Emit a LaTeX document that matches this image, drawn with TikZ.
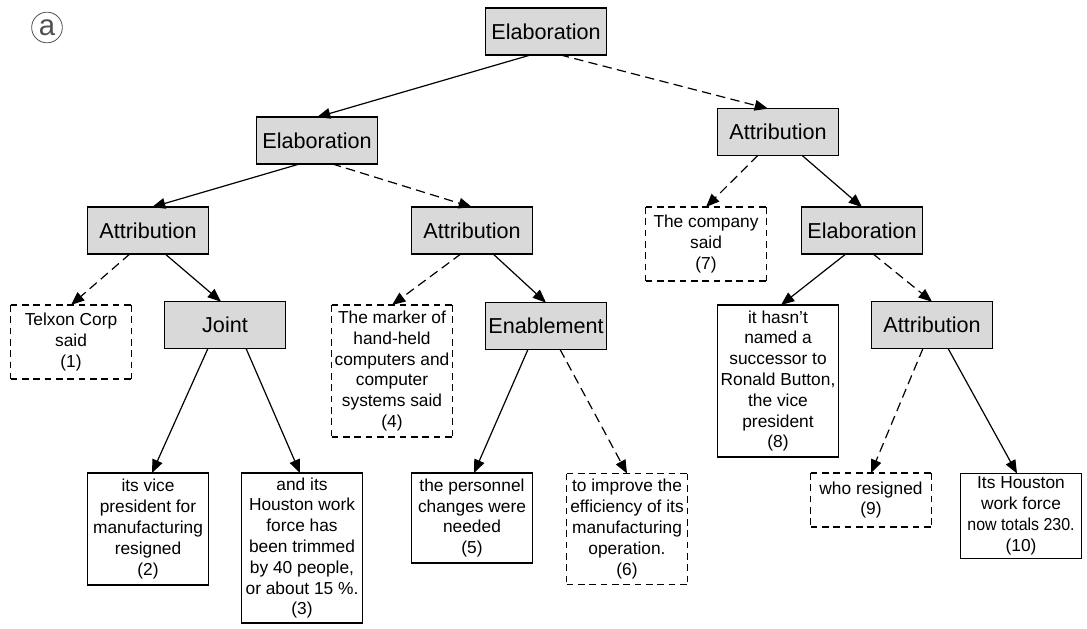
\documentclass[tikz,border=0pt]{standalone}
\usepackage{fontspec}
\usepackage{graphicx}
\setmainfont{Liberation Sans}
\usetikzlibrary{arrows.meta,calc}
\definecolor{relfill}{RGB}{217,217,217}
\definecolor{circgray}{RGB}{80,80,80}
\begin{document}
\begin{tikzpicture}[x=0.75pt,y=-0.75pt,
  rel/.style={draw,line width=1.1pt,fill=relfill,minimum width=90.5pt,minimum height=35pt,inner sep=0pt,outer sep=0pt,font=\fontsize{16.2}{19}\selectfont},
  txt/.style={draw,line width=1pt,minimum width=90.5pt,inner sep=0pt,outer sep=0pt,align=center,font=\fontsize{13}{15.6}\selectfont},
  dline/.style={dash pattern=on 5pt off 3.5pt,line cap=butt},
  dtxt/.style={txt,draw=none,append after command={
    (\tikzlastnode.north west) edge[dline,line width=1.2pt] (\tikzlastnode.north east)
    (\tikzlastnode.south west) edge[dline,line width=1.2pt] (\tikzlastnode.south east)
    (\tikzlastnode.north west) edge[dline,line width=0.6pt] (\tikzlastnode.south west)
    (\tikzlastnode.north east) edge[dline,line width=0.6pt] (\tikzlastnode.south east)}},
  arr/.style={-{Triangle[length=10pt,width=8pt]},line width=0.9pt},
  darr/.style={arr,dash pattern=on 7pt off 4pt}]
\useasboundingbox (0,0) rectangle (1087,628);
% label
\node[circle,draw=circgray,line width=0.6pt,minimum size=23pt,inner sep=0pt,text=circgray,font=\fontsize{22}{22}\selectfont] (lab) at (47,27.5) {a};
% relation nodes
\node[rel] (root)   at (546,31.5) {Elaboration};
\node[rel] (elabL)  at (317,140.5) {Elaboration};
\node[rel] (attrR)  at (778,132) {Attribution};
\node[rel] (attrLL) at (148,230.5) {Attribution};
\node[rel] (attrM)  at (472,230.5) {Attribution};
\node[rel] (elabR)  at (862,230.5) {Elaboration};
\node[rel] (joint)  at (225,325) {Joint};
\node[rel] (enab)   at (546,326) {Enablement};
\node[rel] (attrI)  at (932,325) {Attribution};
% text nodes
\node[dtxt,minimum height=55.5pt] (company) at (706,244) {The company\\said\\(7)};
\node[dtxt,minimum height=55.5pt] (telxon) at (71,342) {Telxon Corp\\said\\(1)};
\node[dtxt,minimum height=99pt] (marker) at (392,371) {The marker of\\hand-held\\computers and\\computer\\systems said\\(4)};
\node[txt,minimum height=114pt] (box8) at (778,381) {it hasn’t\\named a\\successor to\\Ronald Button,\\the vice\\president\\(8)};
\node[txt,minimum height=84pt] (box2) at (148,529) {its vice\\president for\\manufacturing\\resigned\\(2)};
\node[txt,minimum height=112.5pt] (box3) at (302,548) {and its\\Houston work\\force has\\been trimmed\\by 40 people,\\or about 15 \%.\\(3)};
\node[txt,minimum height=67.5pt] (box5) at (472,518) {the personnel\\changes were\\needed\\(5)};
\node[dtxt,minimum height=83.25pt] (box6) at (627,529) {to improve the\\efficiency of its\\manufacturing\\operation.\\(6)};
\node[dtxt,minimum height=40.5pt] (box9) at (871,500) {who resigned\\(9)};
\node[txt,minimum height=63.75pt] (box10) at (1021,516) {Its Houston\\work force\\\scalebox{0.92}[1]{now totals 230.}\\(10)};
% edges
\draw[arr]  ($(root.south)+(-15,0)$) -- (elabL.north);
\draw[darr] ($(root.south)+(14,0)$) -- ($(attrR.north)+(-10,0)$);
\draw[arr]  ($(elabL.south)+(-17,0)$) -- ($(attrLL.north)+(4,0)$);
\draw[darr] ($(elabL.south)+(15,0)$) -- (attrM.north);
\draw[darr] ($(attrLL.south)+(-18,0)$) -- (telxon.north);
\draw[arr]  ($(attrLL.south)+(17,0)$) -- ($(joint.north)+(-4,0)$);
\draw[darr] ($(attrM.south)+(-11,0)$) -- (marker.north);
\draw[arr]  ($(attrM.south)+(21,0)$) -- (enab.north);
\draw[arr]  ($(joint.south)+(-17,0)$) -- ($(box2.north)+(4,0)$);
\draw[arr]  ($(joint.south)+(21,0)$) -- ($(box3.north)+(-2,0)$);
\draw[arr]  ($(enab.south)+(-18,0)$) -- ($(box5.north)+(2,0)$);
\draw[darr] ($(enab.south)+(14,0)$) -- (box6.north);
\draw[darr] ($(attrR.south)+(-20,0)$) -- (company.north);
\draw[arr]  ($(attrR.south)+(24,0)$) -- (elabR.north);
\draw[arr]  ($(elabR.south)+(-16,0)$) -- ($(box8.north)+(3,0)$);
\draw[darr] ($(elabR.south)+(11,0)$) -- (attrI.north);
\draw[darr] ($(attrI.south)+(-9,0)$) -- (box9.north);
\draw[arr]  ($(attrI.south)+(16,0)$) -- ($(box10.north)+(-4,0)$);
\end{tikzpicture}
\end{document}
